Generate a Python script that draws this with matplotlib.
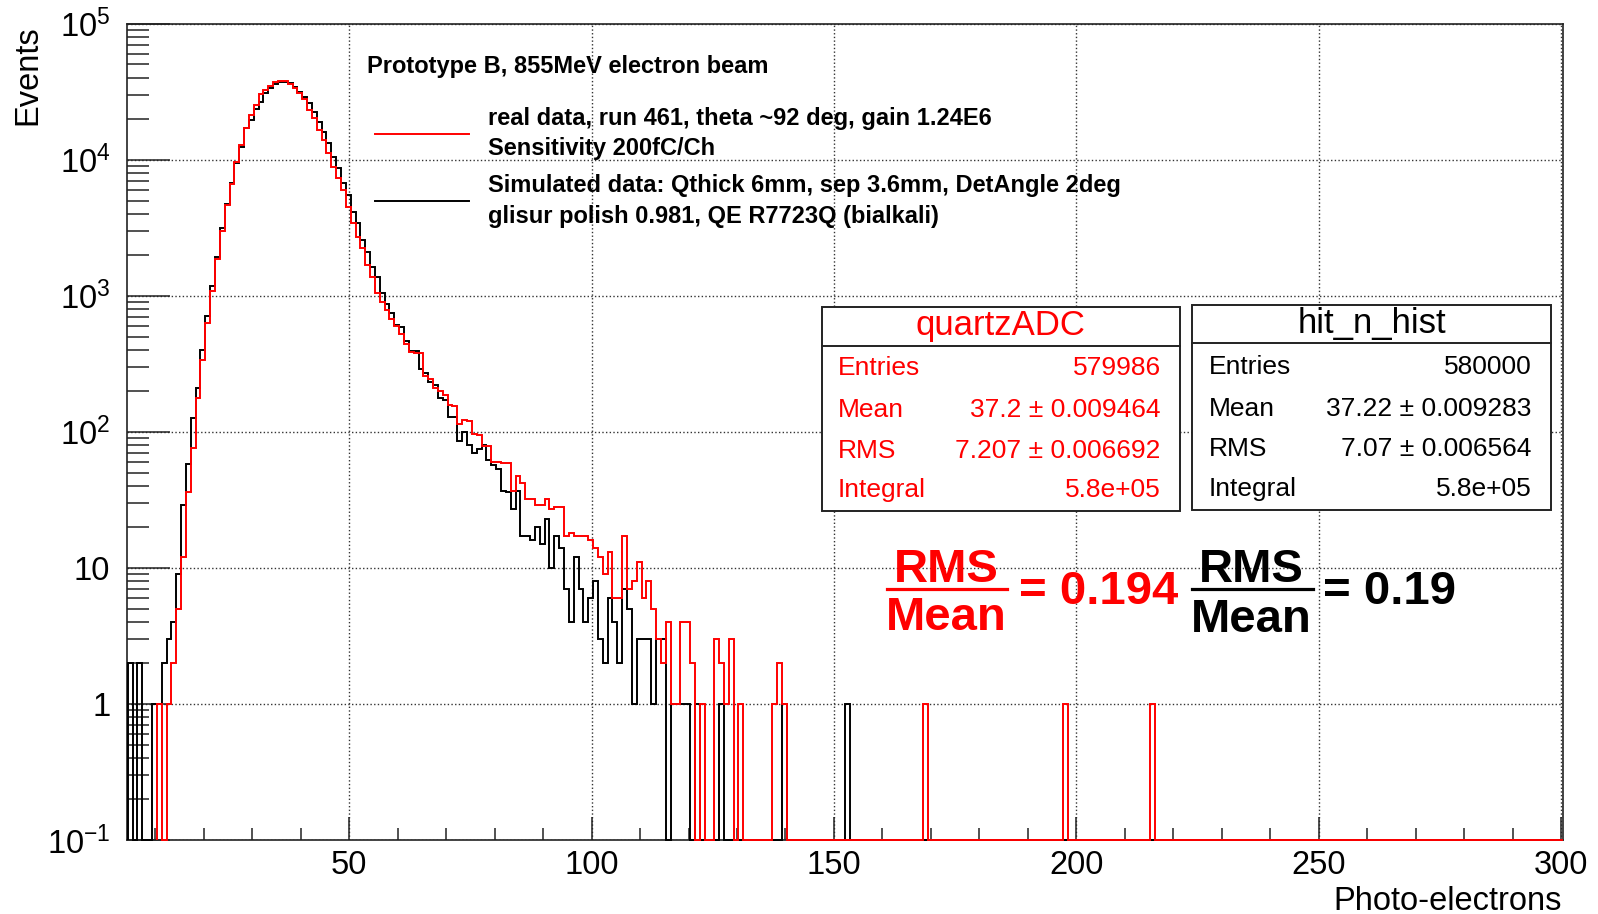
import numpy as np
import matplotlib.pyplot as plt
from matplotlib.lines import Line2D
from matplotlib.patches import Rectangle
from matplotlib.ticker import LogLocator, NullFormatter

plt.rcParams['font.family'] = ['Liberation Sans', 'DejaVu Sans']
plt.rcParams['mathtext.fontset'] = 'custom'
plt.rcParams['mathtext.rm'] = 'Liberation Sans'
plt.rcParams['mathtext.bf'] = 'Liberation Sans:bold'

# ---- data (counts per 1 p.e. bin) ----
bin_w = 1.0
n_last = 300.3

# simulated (hit_n_hist), bins start at 4.3
black_lo = 4.3
black_counts = [
    2, 0, 2, 0, 0, 1, 1, 2, 3, 4,
    9, 29, 58, 126, 209, 397, 710, 1178, 1938, 3127,
    4690, 6690, 9400, 12300, 17000, 19500, 23500, 26600, 30700, 33400,
    35900, 37000, 37000, 36300, 34000, 31500, 29000, 25900, 22500, 19000,
    16000, 13200, 10500, 8630, 6700, 5500, 4140, 3400, 2570, 2100,
    1630, 1380, 1040, 869, 742, 609, 592, 465, 394, 394,
    289, 272, 233, 221, 176, 171, 129, 129, 86, 99,
    80, 70, 75, 80, 62, 57, 53, 37, 36, 27,
    37, 17, 17, 16, 20, 15, 23, 10, 17, 14,
    7, 4, 12, 7, 4, 6, 8, 3, 2, 6,
    4, 2, 7, 5, 1, 3, 3, 3, 1, 3,
    3, 0, 1, 1, 1, 1, 0, 1, 0, 0,
    0, 0, 1,
]
black_tail_x = [139.3, 152.3]
black_tail_n = [1, 1]

# real data (quartzADC), bins start at 10.3
red_lo = 10.3
red_counts = [
    1, 0, 1, 2, 5, 12, 36, 76, 176, 337,
    627, 1083, 1860, 3000, 4640, 6610, 9660, 12800, 17000, 21300,
    25100, 30200, 32400, 34700, 37000, 37600, 37600, 35900, 33400, 30900,
    27700, 23100, 20100, 16500, 13900, 11200, 8870, 7280, 5980, 4500,
    3440, 2720, 2230, 1680, 1380, 1040, 900, 790, 670, 600,
    520, 440, 388, 381, 381, 257, 246, 208, 200, 186,
    157, 154, 114, 121, 119, 96, 95, 78, 78, 60,
    60, 59, 59, 37, 47, 42, 32, 32, 29, 29,
    32, 27, 28, 28, 17, 18, 17, 17, 17, 16,
    14, 12, 9, 13, 6, 6, 17, 7, 8, 11,
    6, 8, 5, 3, 2, 4, 1, 1, 4, 4,
    2, 0, 1, 0, 0, 3, 2, 1, 3, 0,
    1, 0, 0, 0, 0, 0, 0, 1, 2, 1,
]
red_tail_x = [168.3, 197.3, 215.3]
red_tail_n = [1, 1, 1]

y_ticks = [0.1, 1, 10, 100, 1e3, 1e4, 1e5]
y_labels = [r'$\mathregular{10^{-1}}$', '1', '10', r'$\mathregular{10^{2}}$',
            r'$\mathregular{10^{3}}$', r'$\mathregular{10^{4}}$', r'$\mathregular{10^{5}}$']
x_ticks = [50, 100, 150, 200, 250, 300]

stats_real = [('Entries', '579986'), ('Mean', '37.2 ± 0.009464'),
              ('RMS', '7.207 ± 0.006692'), ('Integral', '5.8e+05')]
stats_sim = [('Entries', '580000'), ('Mean', '37.22 ± 0.009283'),
             ('RMS', '7.07 ± 0.006564'), ('Integral', '5.8e+05')]


def full_hist(lo, counts, tail_x, tail_n):
    n = int(round((n_last - lo) / bin_w))
    h = np.zeros(n)
    h[:len(counts)] = counts
    for x, c in zip(tail_x, tail_n):
        h[int(round((x - lo) / bin_w))] = c
    edges = lo + bin_w * np.arange(n + 1)
    return edges, h


W, H = 1598, 914
fig = plt.figure(figsize=(W / 100, H / 100), dpi=100)


def fx(px):
    return px / W


def fy(py):
    return 1 - py / H


ax = fig.add_axes([fx(127), fy(840), fx(1563) - fx(127), fy(23.5) - fy(840)])
ax.set_yscale('log')
ax.set_xlim(4.15, 300.4)
ax.set_ylim(0.1, 1e5)

eb, hb = full_hist(black_lo, black_counts, black_tail_x, black_tail_n)
er, hr = full_hist(red_lo, red_counts, red_tail_x, red_tail_n)
ax.stairs(np.maximum(hb, 0.1), eb, baseline=0.1, color='black', lw=1.4,
          zorder=3, clip_on=False)
ax.stairs(np.maximum(hr, 0.1), er, baseline=0.1, color='#ff0000', lw=1.4,
          zorder=4, clip_on=False)

ax.set_yticks(y_ticks, labels=y_labels)
ax.yaxis.set_minor_locator(LogLocator(base=10, subs=np.arange(2, 10)))
ax.yaxis.set_minor_formatter(NullFormatter())
ax.set_xticks(x_ticks, labels=[str(t) for t in x_ticks])
ax.set_xticks(np.arange(10, 300, 10), minor=True)

ax.tick_params(axis='both', which='both', direction='in', width=1.1,
               colors='#222222', labelcolor='black', labelsize=23.5)
ax.tick_params(axis='y', which='major', length=31, pad=12)
ax.tick_params(axis='y', which='minor', length=15.6)
ax.tick_params(axis='x', which='major', length=16.6, pad=7)
ax.tick_params(axis='x', which='minor', length=8.6)
for s in ax.spines.values():
    s.set_linewidth(1.2)
    s.set_color('#222222')
ax.grid(True, which='major', ls=':', color='#333333', lw=1.0)
ax.set_axisbelow(True)

fig.text(fx(27.5), fy(25), 'Events', rotation=90, ha='center', va='top', fontsize=23.5)
fig.text(fx(1562), fy(910), 'Photo-electrons', ha='right', va='baseline', fontsize=23.5)

# legend
fig.text(fx(367), fy(66), 'Prototype B, 855MeV electron beam', fontweight='bold',
         fontsize=17, va='center')
fig.add_artist(Line2D([fx(375), fx(469)], [fy(133.5)] * 2, color='#ff0000', lw=1.4))
fig.add_artist(Line2D([fx(375), fx(469)], [fy(200.8)] * 2, color='black', lw=1.4))
legend_lines = [(118, 'real data, run 461, theta ~92 deg, gain 1.24E6'),
                (149, 'Sensitivity 200fC/Ch'),
                (185.5, 'Simulated data: Qthick 6mm, sep 3.6mm, DetAngle 2deg'),
                (216, 'glisur polish 0.981, QE R7723Q (bialkali)')]
for y, t in legend_lines:
    fig.text(fx(488), fy(y), t, fontweight='bold', fontsize=17, va='center')


# stats boxes
def stats_box(x0, x1, y0, y1, ysep, title, ytitle, rows, rows_y, xl, xr, color):
    fig.add_artist(Rectangle((fx(x0), fy(y1)), fx(x1) - fx(x0), fy(y0) - fy(y1),
                             facecolor='white', edgecolor='#222222', lw=1.4, zorder=5))
    fig.add_artist(Line2D([fx(x0), fx(x1)], [fy(ysep)] * 2, color='#222222', lw=1.4, zorder=6))
    fig.text(fx((x0 + x1) / 2), fy(ytitle), title, ha='center', va='center',
             fontsize=25, color=color, zorder=7)
    for (lab, val), y in zip(rows, rows_y):
        fig.text(fx(xl), fy(y), lab, ha='left', va='center', fontsize=19, color=color, zorder=7)
        fig.text(fx(xr), fy(y), val, ha='right', va='center', fontsize=19, color=color, zorder=7)


stats_box(821.5, 1180, 307, 510.6, 345.5, 'quartzADC', 326, stats_real,
          [368, 409.6, 450.5, 490], 837.7, 1160.7, '#ff0000')
stats_box(1192.4, 1551, 304.7, 509.6, 343.4, 'hit_n_hist', 324, stats_sim,
          [366.8, 408.6, 449.4, 489], 1208.6, 1531.7, 'black')


# RMS / Mean ratios
def ratio(xc, x0, x1, y_num, y_line, y_den, x_eq, value, color):
    fig.text(fx(xc), fy(y_num), 'RMS', ha='center', va='center', fontsize=34,
             fontweight='bold', color=color)
    fig.add_artist(Line2D([fx(x0), fx(x1)], [fy(y_line)] * 2, color=color, lw=2.3))
    fig.text(fx(xc), fy(y_den), 'Mean', ha='center', va='center', fontsize=34,
             fontweight='bold', color=color)
    fig.text(fx(x_eq), fy(591.5), '= ' + value, ha='left', va='center', fontsize=34,
             fontweight='bold', color=color)


ratio(946.7, 886.6, 1006.9, 569.5, 589, 617.5, 1019, '0.194', '#ff0000')
ratio(1251.5, 1192.4, 1312.6, 570, 589, 619.5, 1322.7, '0.19', 'black')

fig.savefig('out.png', dpi=100)
